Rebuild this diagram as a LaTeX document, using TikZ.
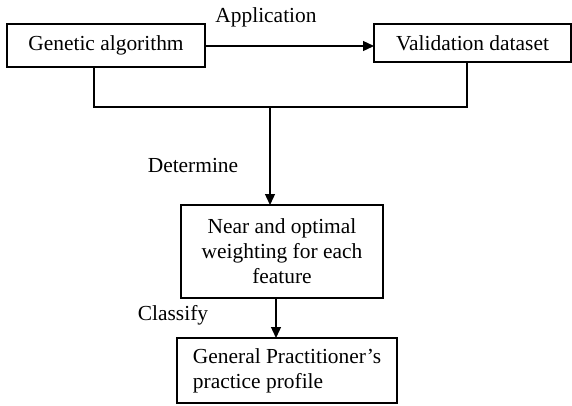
\documentclass[tikz,border=0pt]{standalone}
\usepackage{fontspec}
\setmainfont{Liberation Serif}
\usetikzlibrary{arrows.meta,calc}
\begin{document}
\begin{tikzpicture}[x=1bp,y=-1bp,
  every node/.style={font=\fontsize{21.5}{25}\selectfont, inner sep=0pt, outer sep=0pt},
  box/.style={draw, line width=1.3bp, align=center},
  link/.style={line width=1.3bp},
  arr/.style={line width=1.3bp, -{Triangle[length=11bp,width=10bp]}}]
\useasboundingbox (0,0) rectangle (572,405);

% boxes
\node[box, minimum width=198bp, minimum height=43bp] (ga) at (106,45.5) {Genetic algorithm};
\node[box, minimum width=197bp, minimum height=38bp] (vd) at (472.5,43) {Validation dataset};
\node[box, minimum width=202bp, minimum height=93bp] (nw) at (282,251.5)
  {Near and optimal\\weighting for each\\feature};
\node[box, align=left, minimum width=220bp, minimum height=65bp] (gp) at (287,370.5)
  {General Practitioner’s\\practice profile};

% labels
\node (lapp) at (266,17) {Application};
\node (ldet) at (193,166) {Determine};
\node (lcls) at (173,315) {Classify};

% connectors
\coordinate (dropL) at (94,107);
\coordinate (dropR) at (467,107);
\coordinate (j) at (270,107);
\draw[arr] (ga.east |- 0,46) -- (vd.west |- 0,46);
\draw[link] (ga.south -| dropL) -- (dropL) -- (dropR) -- (vd.south -| dropR);
\draw[arr] (j) -- (j |- nw.north);
\draw[arr] ([xshift=-6bp]nw.south) -- ([xshift=-6bp]nw.south |- gp.north);
\end{tikzpicture}
\end{document}
